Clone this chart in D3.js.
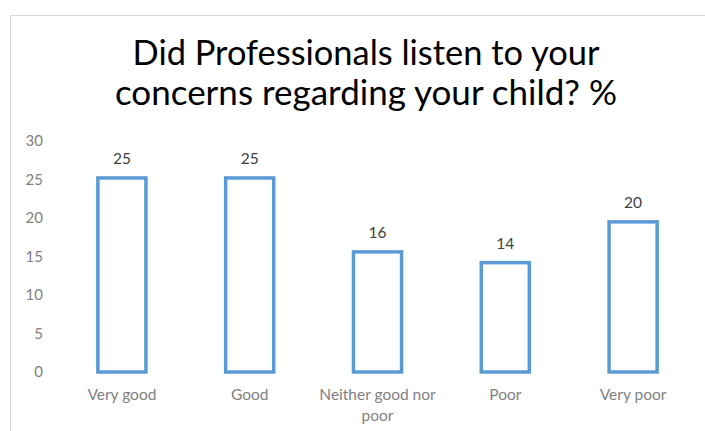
<!DOCTYPE html>
<html><head><meta charset="utf-8">
<script src="https://cdn.jsdelivr.net/npm/d3@7"></script>
<style>html,body{margin:0;padding:0;background:#fff;}svg{display:block;font-family:Lato,"Open Sans",sans-serif;}</style>
</head><body><svg id="c" width="705" height="431"></svg>
<script>
const titleLines = ["Did Professionals listen to your", "concerns regarding your child? %"];
const categories = ["Very good", "Good", "Neither good nor poor", "Poor", "Very poor"];
const values = [25.2, 25.2, 15.6, 14.2, 19.5];
const dataLabels = ["25", "25", "16", "14", "20"];
const yTicks = [0, 5, 10, 15, 20, 25, 30];

const svg = d3.select("#c");
// chart border
svg.append("path").attr("d", "M10.5,431 V15.5 H705").attr("fill", "none").attr("stroke", "#d9d9d9").attr("stroke-width", 1);

// title
const titleWidths = [467, 502];
const tg = svg.append("g");
titleLines.forEach((t, i) => {
  const tx = tg.append("text").attr("x", 366).attr("y", 65 + i * 40).attr("text-anchor", "middle")
    .attr("fill", "#000").style("font-size", "30px").text(t);
  const w = tx.node().getComputedTextLength();
  tx.style("font-size", (30 * titleWidths[i] / w).toFixed(2) + "px");
});

const y = d3.scaleLinear().domain([0, 30]).range([372, 141]);
const x = d3.scaleBand().domain(categories).range([58, 697]).paddingInner(0.624).paddingOuter(0.312);

const yAxis = svg.append("g").attr("transform", "translate(47,0)")
  .call(d3.axisLeft(y).tickValues(yTicks).tickSize(0).tickPadding(4));
yAxis.select(".domain").remove();
yAxis.selectAll("text").attr("fill", "#7f7f7f").style("font-size", "15px").style("font-family", "Lato,'Open Sans',sans-serif");

svg.append("g").selectAll("rect").data(categories).join("rect")
  .attr("x", d => x(d)).attr("width", x.bandwidth())
  .attr("y", (d, i) => y(values[i])).attr("height", (d, i) => y(0) - y(values[i]))
  .attr("fill", "#fff").attr("stroke", "#5b9bd5").attr("stroke-width", 3.5);

svg.append("g").selectAll("text").data(categories).join("text")
  .attr("x", d => x(d) + x.bandwidth() / 2).attr("y", (d, i) => y(values[i]) - 14)
  .attr("text-anchor", "middle").attr("fill", "#404040").style("font-size", "15.5px")
  .text((d, i) => dataLabels[i]);

// category labels with wrapping
const catG = svg.append("g");
categories.forEach(c => {
  const lines = c === "Neither good nor poor" ? ["Neither good nor", "poor"] : [c];
  const t = catG.append("text").attr("text-anchor", "middle").attr("fill", "#7f7f7f").style("font-size", "15.5px");
  lines.forEach((l, j) => t.append("tspan").attr("x", x(c) + x.bandwidth() / 2).attr("y", 400 + j * 21).text(l));
});
</script></body></html>
